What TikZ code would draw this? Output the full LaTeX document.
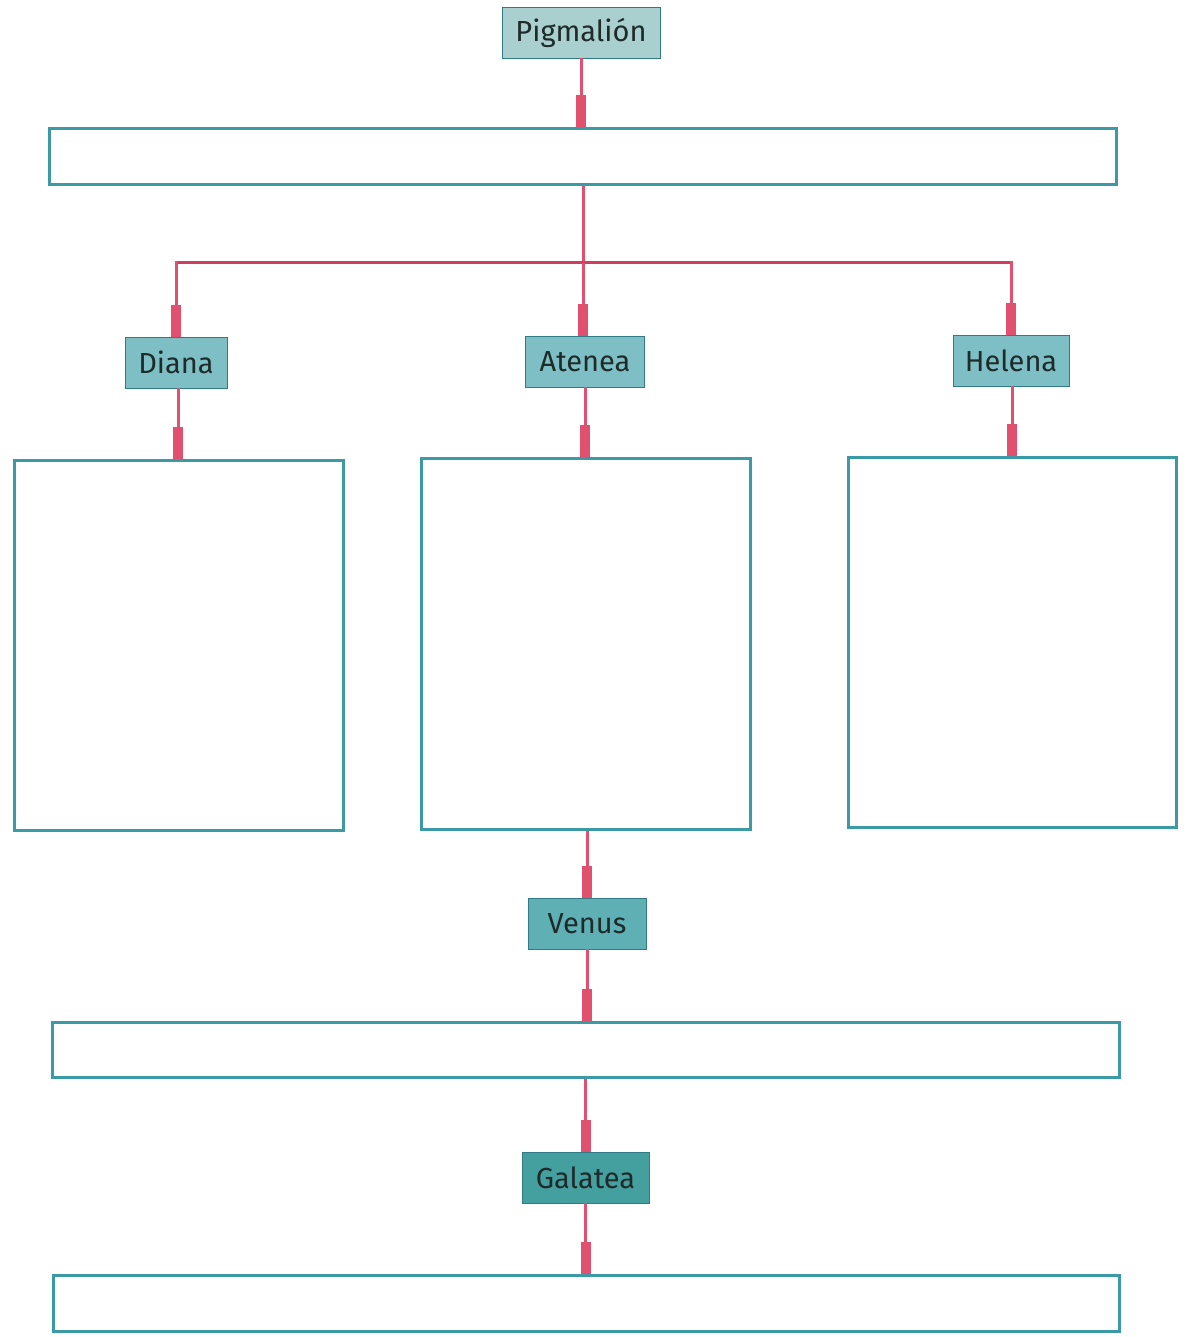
\documentclass[tikz,border=0pt]{standalone}
\usepackage{fontspec}
\setmainfont{Fira Sans}
\usetikzlibrary{arrows.meta}
\definecolor{lnpink}{HTML}{E2506F}
\definecolor{lncrim}{HTML}{CC3F62}
\definecolor{teal1}{HTML}{3C9AA6}
\definecolor{fillA}{HTML}{A9CFCE}
\definecolor{fillB}{HTML}{7DBFC4}
\definecolor{fillC}{HTML}{5EB0B4}
\definecolor{fillD}{HTML}{449F9F}
\definecolor{txt}{HTML}{1F2A2A}
\tikzset{
  lbl/.style={draw=teal1!80!black, line width=0.8pt, minimum height=51pt, inner sep=0pt,
    font=\fontsize{29}{32}\selectfont, text=txt},
  frame/.style={draw=teal1, line width=3pt, fill=white},
  conn/.style={draw=lnpink, line width=3pt, -{Rectangle[length=32pt,width=10pt]}},
  plain/.style={draw=lnpink, line width=3pt},
  hbar/.style={draw=lncrim, line width=3pt}
}
\begin{document}
\begin{tikzpicture}[x=1pt,y=-1pt]
\useasboundingbox (0,0) rectangle (1185,1337);
% frames
\node[frame, minimum width=1067pt, minimum height=56pt, inner sep=0pt] (r1) at (582.5,157) {};
\node[frame, minimum width=329pt, minimum height=370pt, inner sep=0pt] (bL) at (178.5,645) {};
\node[frame, minimum width=329pt, minimum height=371pt, inner sep=0pt] (bM) at (585.5,643.5) {};
\node[frame, minimum width=328pt, minimum height=370pt, inner sep=0pt] (bR) at (1012,642) {};
\node[frame, minimum width=1067pt, minimum height=55pt, inner sep=0pt] (r2) at (585.5,1049.5) {};
\node[frame, minimum width=1066pt, minimum height=56pt, inner sep=0pt] (r3) at (586,1303) {};
% labels
\node[lbl, fill=fillA, minimum width=158pt] (pig) at (581,32.5) {Pigmalión};
\node[lbl, fill=fillB, minimum width=102pt] (dia) at (176,362.5) {Diana};
\node[lbl, fill=fillB, minimum width=119pt] (ate) at (585,361.5) {Atenea};
\node[lbl, fill=fillB, minimum width=116pt] (hel) at (1011,360.5) {Helena};
\node[lbl, fill=fillC, minimum width=118pt] (ven) at (587,923.5) {Venus};
\node[lbl, fill=fillD, minimum width=127pt] (gal) at (585.5,1177.5) {Galatea};
% junction
\coordinate (jM) at (583,263);
\coordinate (jL) at (176,263);
\coordinate (jR) at (1011,263);
% connectors
\draw[conn] (pig.south) -- (pig.south |- r1.north);
\draw[plain] (r1.south -| jM) -- (jM);
\draw[hbar] ([xshift=-1.5pt]jL) -- ([xshift=1.5pt]jR);
\draw[plain] (jL) -- ++(0,-1.5);
\draw[plain] (jR) -- ++(0,-1.5);
\draw[conn] (jL) -- (dia.north);
\draw[conn] (jM) -- (jM |- ate.north);
\draw[conn] (jR) -- (hel.north);
\draw[conn] ([xshift=2pt]dia.south) -- ([xshift=2pt]dia.south |- bL.north);
\draw[conn] (ate.south) -- (ate.south |- bM.north);
\draw[conn] ([xshift=1pt]hel.south) -- ([xshift=1pt]hel.south |- bR.north);
\draw[conn] (bM.south -| ven.north) -- (ven.north);
\draw[conn] (ven.south) -- (ven.south |- r2.north);
\draw[conn] (r2.south -| gal.north) -- (gal.north);
\draw[conn] (gal.south) -- (gal.south |- r3.north);
\end{tikzpicture}
\end{document}
